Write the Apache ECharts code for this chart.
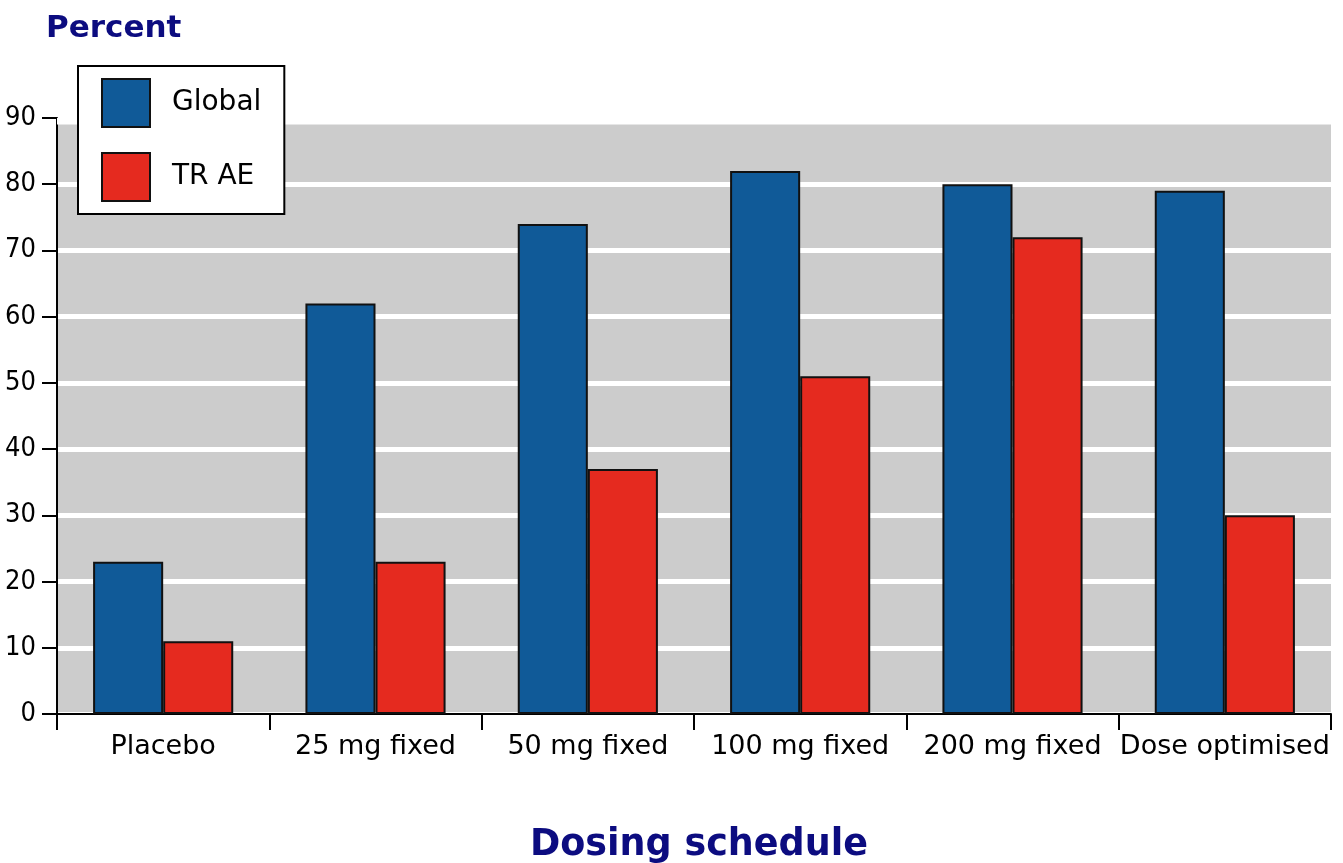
<!DOCTYPE html>
<html>
<head>
<meta charset="utf-8">
<script src="https://cdn.jsdelivr.net/npm/echarts@6/dist/echarts.min.js"></script>
<style>
html, body { margin: 0; padding: 0; background: #fff; }
#chart { width: 1343px; height: 863px; }
</style>
</head>
<body>
<div id="chart"></div>
<script>
var categories = ["Placebo", "25 mg fixed", "50 mg fixed", "100 mg fixed", "200 mg fixed", "Dose optimised"];
var globalValues = [23, 62, 74, 82, 80, 79];
var traeValues = [11, 23, 37, 51, 72, 30];
var seriesNames = ["Global", "TR AE"];
var yTicks = [0, 10, 20, 30, 40, 50, 60, 70, 80, 90];

var myChart = echarts.init(document.getElementById("chart"));
var option = {
    animation: false,
    textStyle: { fontFamily: "DejaVu Sans" },
    title: [{
        text: "Percent",
        left: 41,
        top: 8,
        textStyle: { color: "#0c0c80", fontSize: 31, fontWeight: "bold", fontFamily: "DejaVu Sans" }
    }, {
        text: "Dosing schedule",
        left: 525,
        top: 822,
        textStyle: { color: "#0c0c80", fontSize: 36.5, fontWeight: "bold", fontFamily: "DejaVu Sans" }
    }],
    legend: {
        orient: "vertical",
        left: 78,
        top: 66,
        padding: [12, 23, 12, 23],
        itemWidth: 48,
        itemHeight: 48,
        itemGap: 24,
        backgroundColor: "#fff",
        borderColor: "#000",
        borderWidth: 2,
        icon: "rect",
        textStyle: { fontSize: 28, color: "#000", padding: [0, 0, 0, 17] },
        data: seriesNames
    },
    grid: {
        left: 57,
        right: 12,
        top: 118,
        bottom: 149,
        outerBoundsMode: "none",
        containLabel: false,
        show: true,
        backgroundColor: "#cccccc",
        borderWidth: 0
    },
    xAxis: {
        type: "category",
        data: categories,
        axisLine: { show: true, lineStyle: { color: "#000", width: 2 } },
        axisTick: { show: true, length: 16, interval: 0, alignWithLabel: false, lineStyle: { color: "#000", width: 2 } },
        axisLabel: { color: "#000", fontSize: 27, margin: 19, interval: 0 },
        splitLine: { show: false }
    },
    yAxis: {
        type: "value",
        min: yTicks[0],
        max: yTicks[yTicks.length - 1],
        interval: 10,
        axisLine: { show: true, lineStyle: { color: "#000", width: 2 } },
        axisTick: { show: true, length: 15, lineStyle: { color: "#000", width: 2 } },
        axisLabel: { color: "#000", fontSize: 27, margin: 21, fontFamily: "Liberation Sans Narrow, DejaVu Sans Condensed, sans-serif" },
        splitLine: { show: true, lineStyle: { color: "#fff", width: 5 } }
    },
    series: [{
        name: seriesNames[0],
        type: "bar",
        data: globalValues,
        barGap: "0%",
        barCategoryGap: "34%",
        itemStyle: { color: "#105a98", borderColor: "#111", borderWidth: 2 },
        markArea: {
            silent: true,
            itemStyle: { color: "#fff" },
            data: [[{ yAxis: 89 }, { yAxis: 90 }]]
        }
    }, {
        name: seriesNames[1],
        type: "bar",
        data: traeValues,
        itemStyle: { color: "#e52a1f", borderColor: "#111", borderWidth: 2 }
    }]
};
myChart.setOption(option);
</script>
</body>
</html>
